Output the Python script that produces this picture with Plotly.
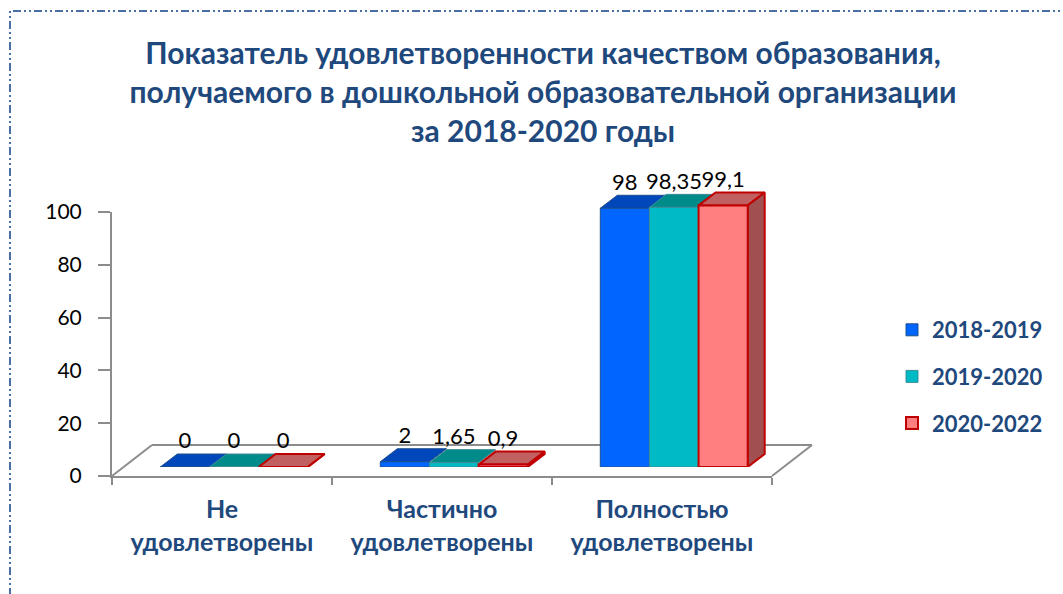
import plotly.graph_objects as go

# ---------------- data ----------------
categories = ["Не<br>удовлетворены", "Частично<br>удовлетворены", "Полностью<br>удовлетворены"]
series_names = ["2018-2019", "2019-2020", "2020-2022"]
values_2018_2019 = [0, 2, 98]
values_2019_2020 = [0, 1.65, 98.35]
values_2020_2022 = [0, 0.9, 99.1]
y_tick_values = [0, 20, 40, 60, 80, 100]
title_text = ("Показатель удовлетворенности качеством образования,<br>"
              "получаемого в дошкольной образовательной организации<br>"
              "за 2018-2020 годы")

series_values = [values_2018_2019, values_2019_2020, values_2020_2022]

# ---------------- styles ----------------
front_colors = ["#0066FF", "#00BAC6", "#FF7F80"]
top_colors = ["#0047BB", "#008B8B", "#C06060"]
side_color = "#A05050"
edge_colors = ["#1F4E8C", "#3E8C96", "#C00000"]
edge_widths = [1, 1, 2]
navy = "#1F497D"
grey = "#8C8C8C"

# ---------------- geometry (screen pixels -> paper) ----------------
W, H = 1063, 594
def fx(p):
    return p / W
def fy(p):
    return 1 - p / H

ax_left, ax_right = 112, 772          # front floor edge
ax_bottom, ax_top = 476, 212          # value 0 / 100 on visible axis
ymax = 100
px_per_unit_y = (ax_bottom - ax_top) / ymax
n_cat = len(categories)
px_per_cat = (ax_right - ax_left) / n_cat

bar_shift = (12, -9)                  # front face of bars relative to floor front
bar_depth = (17, -13)                 # 3D depth of bars
floor_depth = (40, -31)
plane_ymax = 112                      # extra room so tops are not clipped
label_pad_px = 0

ddx = bar_depth[0] / px_per_cat
ddy = -bar_depth[1] / px_per_unit_y
label_pad = label_pad_px / px_per_unit_y
bar_gap = 0.33
bw = (1 - bar_gap) / len(series_names)

plane_bottom = ax_bottom + bar_shift[1]
plane_top = plane_bottom - plane_ymax * px_per_unit_y
plane_left = ax_left + bar_shift[0]
plane_right = ax_right + bar_shift[0]

xs_idx = list(range(n_cat))

fig = go.Figure()

# anchor trace for the visible category/value axes (draws nothing)
fig.add_trace(go.Scatter(x=xs_idx, y=[None] * n_cat, mode="markers",
                         xaxis="x", yaxis="y", showlegend=False, hoverinfo="skip"))

# 3D top faces (and side of last series), behind the front faces
for i, vals in enumerate(series_values):
    px_, py_ = [], []
    for c, v in zip(xs_idx, vals):
        x0 = c + (i - 1.5) * bw
        x1 = x0 + bw
        px_ += [x0, x1, x1 + ddx, x0 + ddx, x0, None]
        py_ += [v, v, v + ddy, v + ddy, v, None]
    fig.add_trace(go.Scatter(
        x=px_, y=py_, mode="lines", fill="toself", fillcolor=top_colors[i],
        line=dict(color=edge_colors[i], width=edge_widths[i]),
        xaxis="x2", yaxis="y2", showlegend=False, hoverinfo="skip"))

last = len(series_values) - 1
sx, sy = [], []
for c, v in zip(xs_idx, series_values[last]):
    x1 = c + (last - 1.5) * bw + bw
    sx += [x1, x1, x1 + ddx, x1 + ddx, x1, None]
    sy += [0, v, v + ddy, ddy, 0, None]
fig.add_trace(go.Scatter(
    x=sx, y=sy, mode="lines", fill="toself", fillcolor=side_color,
    line=dict(color=edge_colors[last], width=edge_widths[last]),
    xaxis="x2", yaxis="y2", showlegend=False, hoverinfo="skip"))

# value labels
for i, vals in enumerate(series_values):
    fig.add_trace(go.Scatter(
        x=[c + (i - 1) * bw for c in xs_idx],
        y=[v + ddy + label_pad for v in vals],
        mode="text",
        text=[f"{v:g}".replace(".", ",") for v in vals],
        textposition="top center",
        textfont=dict(family="Lato", size=22, color="#000000"),
        cliponaxis=False,
        xaxis="x2", yaxis="y2", showlegend=False, hoverinfo="skip"))

# front faces
for i, vals in enumerate(series_values):
    fig.add_trace(go.Bar(
        x=xs_idx, y=vals, name=series_names[i],
        width=bw, offset=(i - 1.5) * bw,
        marker=dict(color=front_colors[i],
                    line=dict(color=edge_colors[i], width=edge_widths[i])),
        xaxis="x3", yaxis="y3", legendgroup=series_names[i]))

# floor outline (chart chrome)
line_style = dict(color=grey, width=2)
shapes = [
    dict(type="line", xref="paper", yref="paper", layer="below",
         x0=fx(ax_left), y0=fy(ax_bottom),
         x1=fx(ax_left + floor_depth[0]), y1=fy(ax_bottom + floor_depth[1]), line=line_style),
    dict(type="line", xref="paper", yref="paper", layer="below",
         x0=fx(ax_left + floor_depth[0]), y0=fy(ax_bottom + floor_depth[1]),
         x1=fx(ax_right + floor_depth[0]), y1=fy(ax_bottom + floor_depth[1]), line=line_style),
    dict(type="line", xref="paper", yref="paper", layer="below",
         x0=fx(ax_right), y0=fy(ax_bottom),
         x1=fx(ax_right + floor_depth[0]), y1=fy(ax_bottom + floor_depth[1]), line=line_style),
    # dotted frame
    dict(type="rect", xref="paper", yref="paper", layer="below",
         x0=fx(10), y0=-0.05, x1=1.05, y1=fy(11),
         line=dict(color="#4A6FA5", width=2, dash="8px,3px,2px,3px,2px,3px")),
]

fig.update_layout(
    width=W, height=H,
    margin=dict(l=0, r=0, t=0, b=0, autoexpand=False),
    paper_bgcolor="white", plot_bgcolor="rgba(0,0,0,0)",
    barmode="overlay",
    shapes=shapes,
    title=dict(text=title_text, x=fx(543), xanchor="center",
               yref="container", y=fy(64), yanchor="middle",
               font=dict(family="Lato", size=30, color=navy, weight="bold")),
    legend=dict(x=fx(892), xanchor="left", y=fy(309), yanchor="top",
                font=dict(family="Lato", size=22, color=navy, weight="bold"),
                tracegroupgap=15, bgcolor="rgba(0,0,0,0)", itemclick=False),
    xaxis=dict(domain=[fx(ax_left), fx(ax_right)], range=[-0.5, n_cat - 0.5],
               anchor="y", showline=True, linecolor=grey, linewidth=2,
               tickmode="array", tickvals=xs_idx, ticktext=categories, ticks="",
               minor=dict(tickmode="array", tickvals=[c - 0.5 for c in range(n_cat + 1)],
                          ticks="outside", ticklen=7, tickcolor=grey, tickwidth=2),
               ticklabelstandoff=10, automargin=False,
               tickfont=dict(family="Lato", size=25, color=navy, weight="bold"),
               showgrid=False, zeroline=False, fixedrange=True),
    yaxis=dict(domain=[fy(ax_bottom), fy(ax_top)], range=[0, ymax], anchor="x",
               showline=True, linecolor=grey, linewidth=2,
               tickmode="array", tickvals=y_tick_values,
               ticks="outside", ticklen=12, tickcolor=grey, tickwidth=2,
               ticklabelstandoff=12, automargin=False,
               tickfont=dict(family="Lato", size=21, color="#000000"),
               showgrid=False, zeroline=False, fixedrange=True),
    xaxis2=dict(domain=[fx(plane_left), fx(plane_right)], range=[-0.5, n_cat - 0.5],
                anchor="y2", visible=False, fixedrange=True, automargin=False),
    yaxis2=dict(domain=[fy(plane_bottom), fy(plane_top)], range=[0, plane_ymax],
                anchor="x2", visible=False, fixedrange=True, automargin=False),
    xaxis3=dict(overlaying="x2", range=[-0.5, n_cat - 0.5], anchor="y3",
                visible=False, fixedrange=True, automargin=False),
    yaxis3=dict(overlaying="y2", range=[0, plane_ymax], anchor="x3",
                visible=False, fixedrange=True, automargin=False),
)

fig.write_html("out.html", config={"displayModeBar": False},
               post_script="document.body.style.margin='0px';")
